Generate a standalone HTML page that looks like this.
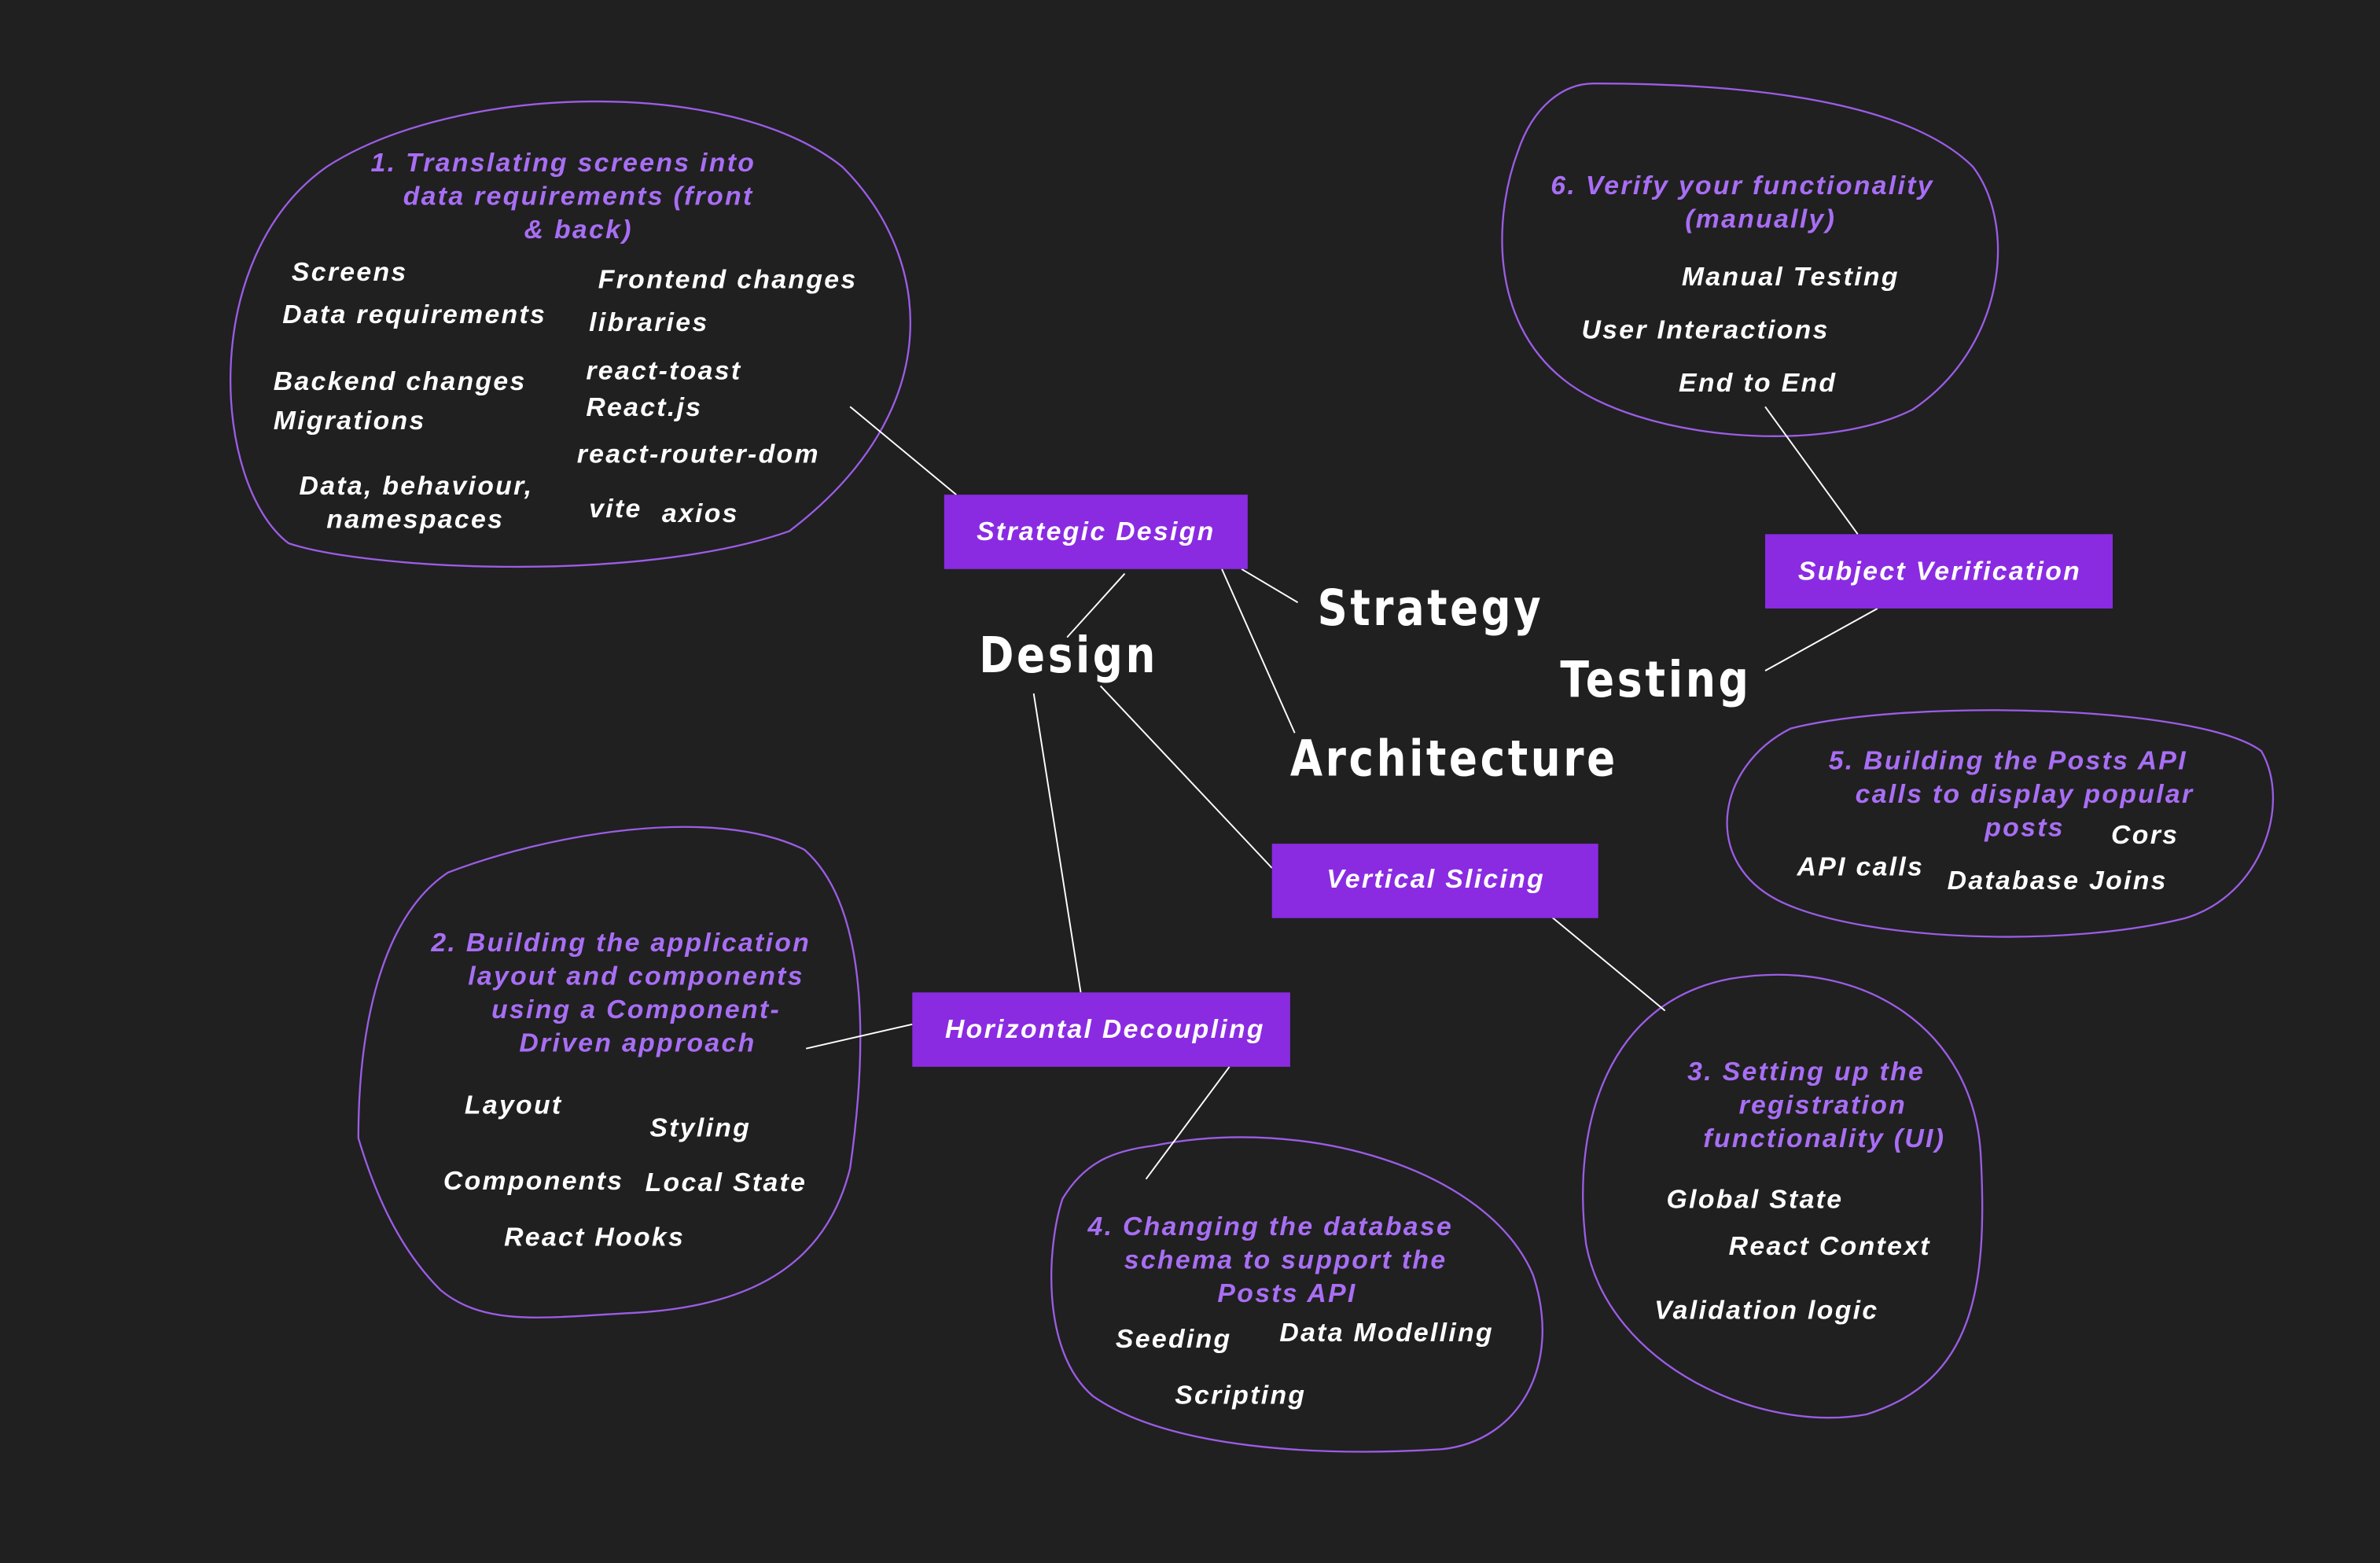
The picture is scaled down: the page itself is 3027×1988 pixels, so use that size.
<!DOCTYPE html>
<html><head><meta charset="utf-8"><style>
html,body{margin:0;padding:0;background:#202020;}
svg{display:block}
.h{fill:#a86ef4;font:italic bold 17.5px "Liberation Sans",sans-serif;letter-spacing:1.2px;text-anchor:middle}
.i{fill:#fff;font:italic bold 17.5px "Liberation Sans",sans-serif;letter-spacing:1.2px}
.b{fill:#fff;font:italic bold 17.5px "Liberation Sans",sans-serif;letter-spacing:1.2px;text-anchor:middle}
.w{fill:#fff;font:bold 33px "DejaVu Sans Condensed","Liberation Sans",sans-serif;letter-spacing:2px}
.blob{fill:none;stroke:#9b5de5;stroke-width:1.2}
.ln{stroke:#fff;stroke-width:1}
</style></head><body>
<svg width="3027" height="1988" viewBox="0 0 1568 1030" xmlns="http://www.w3.org/2000/svg">
<rect width="1568" height="1030" fill="#202020"/>
<path class="blob" d="M190 358 C140 320 130 170 215 110 C300 55 480 50 555 110 C615 170 625 270 520 350 C420 385 240 375 190 358 Z"/>
<path class="blob" d="M1050 55 C1120 55 1250 60 1300 110 C1330 150 1320 230 1260 270 C1200 300 1080 290 1030 250 C980 210 985 140 1000 100 C1010 70 1030 55 1050 55 Z"/>
<path class="blob" d="M1180 480 C1260 460 1450 465 1490 495 C1510 530 1490 590 1440 605 C1360 625 1230 620 1175 595 C1120 570 1130 505 1180 480 Z"/>
<path class="blob" d="M1140 645 C1230 630 1300 680 1305 760 C1310 850 1300 910 1230 932 C1160 945 1060 900 1045 820 C1035 740 1060 660 1140 645 Z"/>
<path class="blob" d="M760 755 C860 735 980 770 1010 840 C1030 900 1000 950 950 955 C870 960 770 955 720 920 C685 890 690 820 700 790 C715 765 735 758 760 755 Z"/>
<path class="blob" d="M295 575 C360 550 470 530 530 560 C575 600 570 700 560 770 C545 830 500 860 420 865 C360 868 320 875 290 850 C260 820 245 780 236 750 C236 680 250 605 295 575 Z"/>
<line class="ln" x1="560" y1="268" x2="630" y2="326"/>
<line class="ln" x1="741" y1="378" x2="703" y2="420"/>
<line class="ln" x1="805" y1="375" x2="853" y2="483"/>
<line class="ln" x1="818" y1="375" x2="855" y2="397"/>
<line class="ln" x1="681" y1="457" x2="712" y2="654"/>
<line class="ln" x1="725" y1="452" x2="838" y2="572"/>
<line class="ln" x1="1022" y1="604" x2="1097" y2="666"/>
<line class="ln" x1="810" y1="703" x2="755" y2="777"/>
<line class="ln" x1="531" y1="691" x2="601" y2="675"/>
<line class="ln" x1="1163" y1="268" x2="1224" y2="352"/>
<line class="ln" x1="1237" y1="401" x2="1163" y2="442"/>
<rect x="622" y="326" width="200" height="49" fill="#8a2be2"/>
<text class="b" x="722" y="356">Strategic Design</text>
<rect x="1163" y="352" width="229" height="49" fill="#8a2be2"/>
<text class="b" x="1278" y="382">Subject Verification</text>
<rect x="838" y="556" width="215" height="49" fill="#8a2be2"/>
<text class="b" x="946" y="585">Vertical Slicing</text>
<rect x="601" y="654" width="249" height="49" fill="#8a2be2"/>
<text class="b" x="728" y="684">Horizontal Decoupling</text>
<text class="w" x="868" y="412" textLength="149" lengthAdjust="spacingAndGlyphs">Strategy</text>
<text class="w" x="645" y="443" textLength="118" lengthAdjust="spacingAndGlyphs">Design</text>
<text class="w" x="850" y="511" textLength="216" lengthAdjust="spacingAndGlyphs">Architecture</text>
<text class="w" x="1028" y="459" textLength="126" lengthAdjust="spacingAndGlyphs">Testing</text>
<text class="h" x="371" y="113">1. Translating screens into</text>
<text class="h" x="381" y="135">data requirements (front</text>
<text class="h" x="381" y="157">&amp; back)</text>
<text class="i" x="192" y="185">Screens</text>
<text class="i" x="186" y="213">Data requirements</text>
<text class="i" x="180" y="257">Backend changes</text>
<text class="i" x="180" y="283">Migrations</text>
<text class="i" x="197" y="326">Data, behaviour,</text>
<text class="i" x="215" y="348">namespaces</text>
<text class="i" x="394" y="190">Frontend changes</text>
<text class="i" x="388" y="218">libraries</text>
<text class="i" x="386" y="250">react-toast</text>
<text class="i" x="386" y="274">React.js</text>
<text class="i" x="380" y="305">react-router-dom</text>
<text class="i" x="388" y="341">vite</text>
<text class="i" x="436" y="344">axios</text>
<text class="h" x="1148" y="128">6. Verify your functionality</text>
<text class="h" x="1160" y="150">(manually)</text>
<text class="i" x="1108" y="188">Manual Testing</text>
<text class="i" x="1042" y="223">User Interactions</text>
<text class="i" x="1106" y="258">End to End</text>
<text class="h" x="1323" y="507">5. Building the Posts API</text>
<text class="h" x="1334" y="529">calls to display popular</text>
<text class="h" x="1334" y="551">posts</text>
<text class="i" x="1391" y="556">Cors</text>
<text class="i" x="1184" y="577">API calls</text>
<text class="i" x="1283" y="586">Database Joins</text>
<text class="h" x="1190" y="712">3. Setting up the</text>
<text class="h" x="1201" y="734">registration</text>
<text class="h" x="1202" y="756">functionality (UI)</text>
<text class="i" x="1098" y="796">Global State</text>
<text class="i" x="1139" y="827">React Context</text>
<text class="i" x="1090" y="869">Validation logic</text>
<text class="h" x="837" y="814">4. Changing the database</text>
<text class="h" x="847" y="836">schema to support the</text>
<text class="h" x="848" y="858">Posts API</text>
<text class="i" x="735" y="888">Seeding</text>
<text class="i" x="843" y="884">Data Modelling</text>
<text class="i" x="774" y="925">Scripting</text>
<text class="h" x="409" y="627">2. Building the application</text>
<text class="h" x="419" y="649">layout and components</text>
<text class="h" x="419" y="671">using a Component-</text>
<text class="h" x="420" y="693">Driven approach</text>
<text class="i" x="306" y="734">Layout</text>
<text class="i" x="428" y="749">Styling</text>
<text class="i" x="292" y="784">Components</text>
<text class="i" x="425" y="785">Local State</text>
<text class="i" x="332" y="821">React Hooks</text>
</svg>
</body></html>
